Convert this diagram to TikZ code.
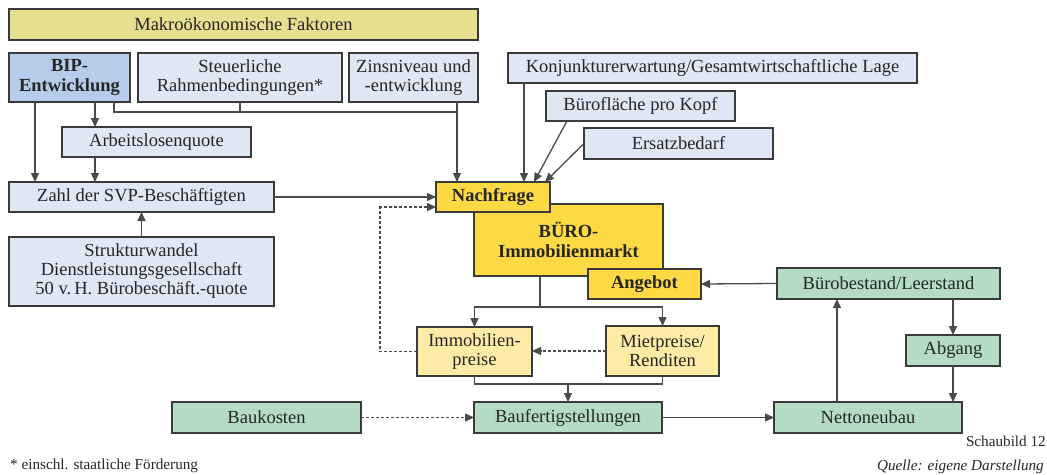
\documentclass[tikz,border=0pt]{standalone}
\usepackage{fontspec}
\setmainfont{Liberation Serif}
\usetikzlibrary{arrows.meta,calc}
\definecolor{cmakro}{HTML}{E6DF90}
\definecolor{cbip}{HTML}{B5CCEA}
\definecolor{clight}{HTML}{DFE6F4}
\definecolor{cyel}{HTML}{FDD944}
\definecolor{cpale}{HTML}{FDEBA6}
\definecolor{cgreen}{HTML}{B3DCC3}
\definecolor{cborder}{HTML}{3A3A3A}
\definecolor{cline}{HTML}{4A4A4A}
\tikzset{
  box/.style={draw=cborder, line width=1.3pt, inner sep=0pt, outer sep=0pt, anchor=north west, align=center,
    font=\fontsize{18.5}{19}\selectfont, text=black!85},
  bluebox/.style={box, fill=clight},
  yelbox/.style={box, fill=cyel, font=\fontsize{18.5}{19.5}\selectfont\bfseries},
  palebox/.style={box, fill=cpale},
  greenbox/.style={box, fill=cgreen},
  ln/.style={draw=cline, line width=1.3pt},
  arr/.style={ln, -{Triangle[length=9pt,width=8pt]}},
  darr/.style={arr, dash pattern=on 3pt off 2pt},
  captext/.style={inner sep=0pt, font=\fontsize{15.2}{17}\selectfont, text=black!85},
}
\begin{document}
\begin{tikzpicture}[x=1pt,y=-1pt]
\useasboundingbox (0,0) rectangle (1047,474);
% boxes
\node[box, fill=cmakro, minimum width=469pt, minimum height=31pt] (makro) at (9,9) {Makroökonomische Faktoren};
\node[box, fill=cbip, font=\fontsize{18.5}{19.5}\selectfont\bfseries, minimum width=121pt, minimum height=49pt] (bip) at (9,53) {BIP-\\Entwicklung};
\node[bluebox, minimum width=204pt, minimum height=49pt] (steuer) at (138,53) {Steuerliche\\Rahmenbedingungen*};
\node[bluebox, minimum width=129pt, minimum height=49pt] (zins) at (349,53) {Zinsniveau und\\-entwicklung};
\node[bluebox, minimum width=189pt, minimum height=30pt] (arbeit) at (62,127) {Arbeitslosenquote};
\node[bluebox, minimum width=265pt, minimum height=30pt] (zahl) at (9,182) {Zahl der SVP-Beschäftigten};
\node[bluebox, minimum width=265pt, minimum height=69pt] (struktur) at (9,237) {Strukturwandel\\Dienstleistungsgesellschaft\\50 v.\,H. Bürobeschäft.-quote};
\node[bluebox, minimum width=409pt, minimum height=30pt] (konj) at (508,53) {Konjunkturerwartung/Gesamtwirtschaftliche Lage};
\node[bluebox, minimum width=189pt, minimum height=30pt] (buerofl) at (546,91) {Bürofläche pro Kopf};
\node[bluebox, minimum width=189pt, minimum height=31pt] (ersatz) at (584,128) {Ersatzbedarf};
\node[yelbox, minimum width=189pt, minimum height=72pt] (buero) at (474,204) {BÜRO-\\Immobilienmarkt};
\node[yelbox, minimum width=114pt, minimum height=30pt] (nachfrage) at (436,182) {Nachfrage};
\node[yelbox, minimum width=113pt, minimum height=30pt] (angebot) at (588,269) {Angebot};
\node[greenbox, minimum width=223pt, minimum height=31pt] (bestand) at (777,268) {Bürobestand/Leerstand};
\node[palebox, minimum width=115pt, minimum height=49pt] (immo) at (417,327) {Immobilien-\\preise};
\node[palebox, minimum width=113pt, minimum height=50pt] (miet) at (606,326) {Mietpreise/\\Renditen};
\node[greenbox, minimum width=94pt, minimum height=31pt] (abgang) at (906,335) {Abgang};
\node[greenbox, minimum width=189pt, minimum height=31pt] (baukosten) at (172,402) {Baukosten};
\node[greenbox, minimum width=188pt, minimum height=31pt] (baufert) at (474,402) {Baufertigstellungen};
\node[greenbox, minimum width=188pt, minimum height=31pt] (netto) at (774,402) {Nettoneubau};
% captions
\node[captext, anchor=base east] (schau) at (1046,446) {Schaubild 12};
\node[captext, anchor=base east, font=\fontsize{15.2}{17}\selectfont\itshape] (quelle) at (1044,470) {Quelle: eigene Darstellung};
\node[captext, anchor=base west] (fn) at (10,469) {* einschl. staatliche Förderung};
% connectors
\draw[arr] ([xshift=26pt]bip.south west) -- ([xshift=26pt]bip.south west |- zahl.north);
\draw[arr] ([xshift=86pt]bip.south west) -- ([xshift=86pt]bip.south west |- arbeit.north);
\draw[arr] ([xshift=86pt]bip.south west |- arbeit.south) -- ([xshift=86pt]bip.south west |- zahl.north);
\coordinate (bus) at (457,112);
\coordinate (zx) at ([xshift=108pt]zins.south west);
\draw[ln] ([xshift=105pt]bip.south west) |- (bus);
\draw[ln] (steuer.south) -- (steuer.south |- bus);
\draw[arr] (zx) -- (zx |- nachfrage.north);
\draw[arr] (zahl.east) -- (zahl.east -| nachfrage.west);
\draw[arr] (struktur.north) -- (zahl.south);
\draw[darr] (immo.west) -- ++(-37,0) |- ([yshift=-10pt]nachfrage.west);
\draw[arr] ([xshift=16pt]konj.south west) -- ([xshift=16pt]konj.south west |- nachfrage.north);
\draw[arr] ([xshift=21pt]buerofl.south west) -- ([xshift=98pt]nachfrage.north west);
\draw[arr] (ersatz.west) -- ([xshift=-5pt]nachfrage.north east);
\coordinate (split) at (540,307);
\draw[ln] ([xshift=66pt]buero.south west) -- (split);
\draw[arr] (split) -| (immo.north);
\draw[arr] (split) -| (miet.north);
\draw[darr] (miet.west) -- (miet.west -| immo.east);
\coordinate (merge) at (568,384);
\draw[ln] (immo.south) |- (merge) -| (miet.south);
\draw[arr] (merge) -- (baufert.north);
\draw[darr] (baukosten.east) -- (baufert.west);
\draw[arr] (baufert.east) -- (netto.west);
\draw[arr] ([xshift=63pt]netto.north west) -- ([xshift=63pt]netto.north west |- bestand.south);
\draw[arr] (bestand.west) -- (angebot.east);
\draw[arr] (abgang.north |- bestand.south) -- (abgang.north);
\draw[arr] (abgang.south) -- (abgang.south |- netto.north);
\end{tikzpicture}
\end{document}
